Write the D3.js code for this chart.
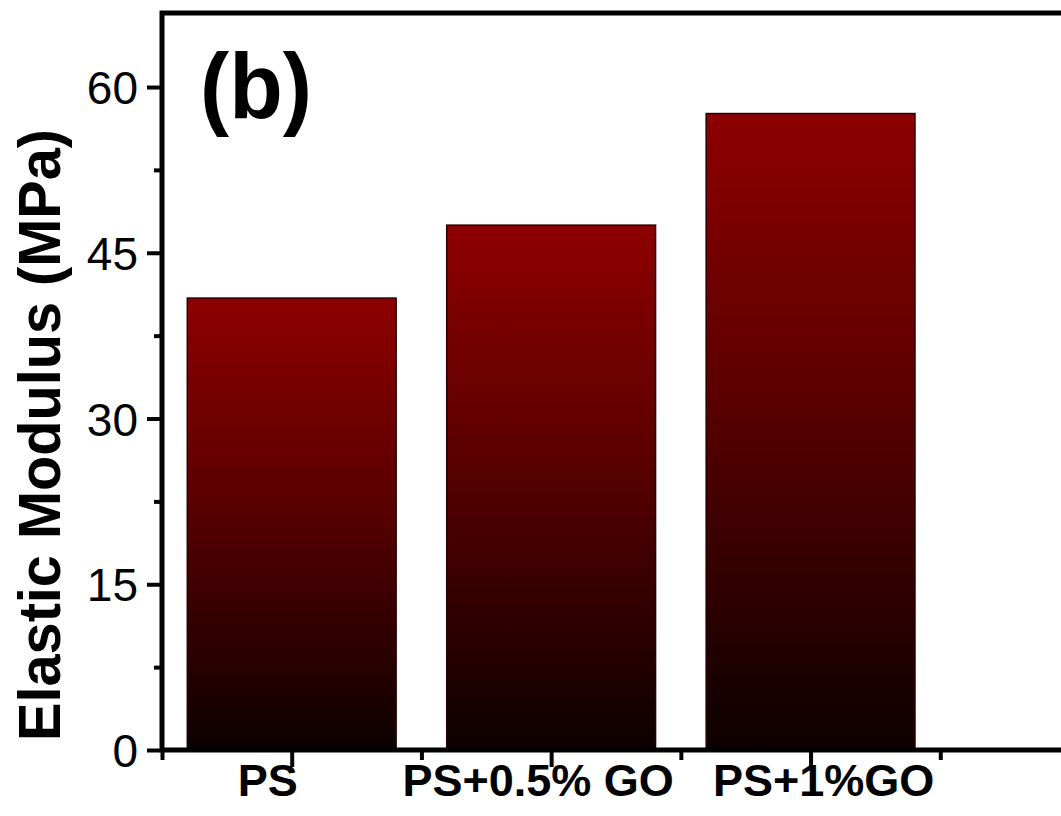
<!DOCTYPE html>
<html>
<head>
<meta charset="utf-8">
<script src="https://cdn.jsdelivr.net/npm/d3@7"></script>
<style>
  html, body { margin: 0; padding: 0; background: #fff; }
  svg { display: block; }
  text { font-family: "Liberation Sans", Arial, sans-serif; fill: #000; }
</style>
</head>
<body>
<svg id="canvas"></svg>
<script>
// data
const categories = ['PS', 'PS+0.5% GO', 'PS+1%GO'];
const modulus = [40.9, 47.5, 57.6];
const yTicks = [0, 15, 30, 45, 60];
const yMinorTicks = [7.5, 22.5, 37.5, 52.5];
const panelLabel = '(b)';
const yTitle = 'Elastic Modulus (MPa)';

const w = 1061;
const h = 816;
const padLeft = 162, padRight = 1070, padTop = 13, padBottom = 750;

const svg = d3.select('#canvas').attr('width', w).attr('height', h);

// x runs 0.5 .. 4 so that category i sits at i+1
const x = d3.scaleLinear().domain([0.5, 4]).range([padLeft, padRight]);
const y = d3.scaleLinear().domain([0, 66.7]).range([padBottom, padTop]);
const step = x(2) - x(1);
const barW = step * 0.805;

// gradient from red at the top to near black at the base
const grad = svg.append('defs').append('linearGradient')
  .attr('id', 'barGrad')
  .attr('x1', 0).attr('y1', 0).attr('x2', 0).attr('y2', 1);
grad.append('stop').attr('offset', '0%').attr('stop-color', '#8e0000');
grad.append('stop').attr('offset', '45%').attr('stop-color', '#5a0000');
grad.append('stop').attr('offset', '100%').attr('stop-color', '#0c0000');

svg.selectAll('rect.bar')
  .data(modulus)
  .enter()
  .append('rect')
  .attr('class', 'bar')
  .attr('x', (d, i) => x(i + 1) - barW / 2)
  .attr('y', (d) => y(d))
  .attr('width', barW)
  .attr('height', (d) => y(0) - y(d))
  .attr('fill', 'url(#barGrad)')
  .attr('stroke', '#2a0000')
  .attr('stroke-width', 1.5);

// y axis: major ticks with labels, minor ticks without
const yAxis = d3.axisLeft(y).tickValues(yTicks).tickSize(15).tickPadding(9).tickFormat(d3.format('d'));
const gy = svg.append('g').attr('transform', 'translate(' + padLeft + ',0)').call(yAxis);
gy.select('.domain').remove();
gy.selectAll('.tick line').attr('stroke-width', 4);
gy.selectAll('.tick text').style('font-size', '46px').attr('dy', '0.36em');

const yMinor = d3.axisLeft(y).tickValues(yMinorTicks).tickSize(8).tickFormat('');
const gy2 = svg.append('g').attr('transform', 'translate(' + padLeft + ',0)').call(yMinor);
gy2.select('.domain').remove();
gy2.selectAll('.tick line').attr('stroke-width', 4);

// x axis: major ticks at categories, minor between
const xAxis = d3.axisBottom(x).tickValues([1, 2, 3]).tickSize(17).tickFormat('');
const gx = svg.append('g').attr('transform', 'translate(0,' + padBottom + ')').call(xAxis);
gx.select('.domain').remove();
gx.selectAll('.tick line').attr('stroke-width', 4);

const xMinor = d3.axisBottom(x).tickValues([0.5, 1.5, 2.5, 3.5]).tickSize(10).tickFormat('');
const gx2 = svg.append('g').attr('transform', 'translate(0,' + padBottom + ')').call(xMinor);
gx2.select('.domain').remove();
gx2.selectAll('.tick line').attr('stroke-width', 4);

// category labels (slightly off-centre in the original)
const labelNudge = [-24, -13, 13];
svg.selectAll('text.cat')
  .data(categories)
  .enter()
  .append('text')
  .attr('class', 'cat')
  .attr('x', (d, i) => x(i + 1) + labelNudge[i])
  .attr('y', 796)
  .attr('text-anchor', 'middle')
  .style('font-size', '45px')
  .style('font-weight', 'bold')
  .text((d) => d);

// frame
svg.append('rect')
  .attr('x', padLeft).attr('y', padTop)
  .attr('width', padRight - padLeft).attr('height', padBottom - padTop)
  .attr('fill', 'none')
  .attr('stroke', '#000')
  .attr('stroke-width', 5);

// y title
svg.append('text')
  .attr('transform', 'translate(60,435) rotate(-90)')
  .attr('text-anchor', 'middle')
  .attr('textLength', 612)
  .attr('lengthAdjust', 'spacingAndGlyphs')
  .style('font-size', '60px')
  .style('font-weight', 'bold')
  .text(yTitle);

// panel label
svg.append('text')
  .attr('x', 200)
  .attr('y', 118)
  .attr('textLength', 112)
  .attr('lengthAdjust', 'spacingAndGlyphs')
  .style('font-size', '92px')
  .style('font-weight', 'bold')
  .text(panelLabel);
</script>
</body>
</html>
